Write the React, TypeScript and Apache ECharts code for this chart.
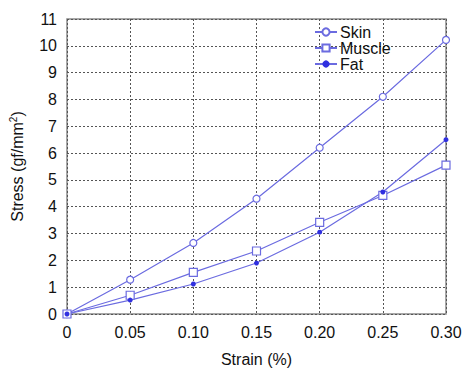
import React, { useEffect, useRef } from "react";
import * as echarts from "echarts";

const strain = [0, 0.05, 0.1, 0.15, 0.2, 0.25, 0.3];
const skin = [0, 1.28, 2.65, 4.3, 6.2, 8.1, 10.22];
const muscle = [0, 0.7, 1.55, 2.35, 3.42, 4.42, 5.55];
const fat = [0, 0.52, 1.12, 1.9, 3.05, 4.55, 6.5];
const seriesNames = ["Skin", "Muscle", "Fat"];

const LINE = "#6b6be0";
const FONT = "Liberation Sans, Arial, sans-serif";

export default function App() {
  const ref = useRef<HTMLDivElement>(null);
  useEffect(() => {
    if (!ref.current) return;
    const chart = echarts.init(ref.current, null, { renderer: "svg" });
    const pts = (arr: number[]) => arr.map((v, i) => [strain[i], v]);
    chart.setOption({
      animation: false,
      backgroundColor: "#fff",
      grid: {
        left: 66,
        right: 19,
        top: 19,
        bottom: 56,
        show: true,
        borderColor: "#8a8a8a",
        borderWidth: 1.5,
        containLabel: false,
      },
      legend: {
        orient: "vertical",
        left: 314,
        top: 24,
        itemWidth: 22,
        itemHeight: 9,
        itemGap: 0,
        padding: 0,
        textStyle: { fontFamily: FONT, fontSize: 16, lineHeight: 16, color: "#111", padding: [0, 0, 0, -2] },
        data: seriesNames,
      },
      xAxis: {
        type: "value",
        min: 0,
        max: 0.3,
        interval: 0.05,
        name: "Strain (%)",
        nameLocation: "middle",
        nameGap: 37,
        nameTextStyle: { fontFamily: FONT, fontSize: 16, color: "#111" },
        axisLine: { show: false },
        axisTick: { show: false },
        axisLabel: {
          fontFamily: FONT,
          fontSize: 16,
          color: "#111",
          margin: 10,
          formatter: (v: number) => (v === 0 ? "0" : v.toFixed(2)),
        },
        splitLine: { show: true, lineStyle: { type: [2, 2], color: "#555", width: 1 } },
      },
      yAxis: {
        type: "value",
        min: 0,
        max: 11,
        interval: 1,
        name: "Stress (gf/mm{sup|2})",
        nameLocation: "middle",
        nameGap: 41,
        nameTextStyle: {
          fontFamily: FONT,
          fontSize: 16,
          color: "#111",
          rich: { sup: { fontFamily: FONT, fontSize: 10, color: "#111", verticalAlign: "top", padding: [0, 0, 8, 0] } },
        },
        axisLine: { show: false },
        axisTick: { show: false },
        axisLabel: { fontFamily: FONT, fontSize: 16, color: "#111", margin: 10 },
        splitLine: { show: true, lineStyle: { type: [2, 2], color: "#555", width: 1 } },
      },
      series: [
        {
          name: "Skin",
          type: "line",
          data: pts(skin),
          symbol: "circle",
          symbolSize: 7,
          showAllSymbol: true,
          lineStyle: { color: LINE, width: 1.2 },
          itemStyle: { color: "#fff", borderColor: LINE, borderWidth: 1.2 },
        },
        {
          name: "Muscle",
          type: "line",
          data: pts(muscle),
          symbol: "rect",
          symbolSize: 8,
          showAllSymbol: true,
          lineStyle: { color: LINE, width: 1.2 },
          itemStyle: { color: "#fff", borderColor: LINE, borderWidth: 1.2 },
        },
        {
          name: "Fat",
          type: "line",
          data: pts(fat),
          symbol: "circle",
          symbolSize: 5,
          showAllSymbol: true,
          lineStyle: { color: LINE, width: 1.2 },
          itemStyle: { color: "#3030e0", borderColor: "#3030e0", borderWidth: 0 },
        },
      ],
    });
    return () => chart.dispose();
  }, []);
  return <div ref={ref} style={{ position: "fixed", left: 0, top: 0, width: 465, height: 372 }} />;
}
